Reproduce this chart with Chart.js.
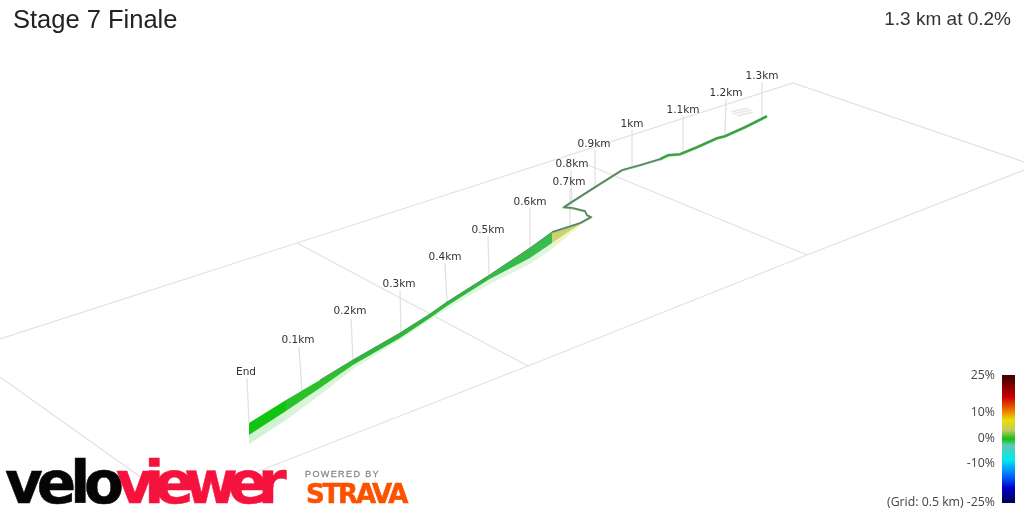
<!DOCTYPE html>
<html><head><meta charset="utf-8">
<script src="https://cdn.jsdelivr.net/npm/chart.js@4"></script>
<style>html,body{margin:0;padding:0;background:#fff}#w{width:1024px;height:512px}</style>
</head><body><div id="w"><canvas id="c" width="1024" height="512"></canvas></div>
<script>
const gridLines = [
  [[0,339],[297,243],[793,83],[1024,162]],
  [[297,243],[528,366]],
  [[588,165],[807,255]],
  [[177,503],[528,366],[807,255],[1024,170]],
  [[0,377],[177,503]]
];
const ribbonX      = [249,286,320,353,400,430,447,488,530,552,580];
const ribbonTopY   = [423,400,380,360,333,314,302,276,248,232,223];
const ribbonBottomY= [435,411,388,365,338,318,306,280,258,243,224];
const shadowBottomY= [444,420,395,369,340,320,309,285,264,249,226];
const ribbonColours= ['#12c412','#2cc02c','#2cc02c','#2eb83a','#2eb83a','#2eb83a','#2fb83f','#34bb48','#38bd4c','#cfd06e'];
const shadowColours= ['#d2f3d2','#d8f5d8','#d8f5d8','#ddf6dd','#ddf6dd','#ddf6dd','#ddf6dd','#ddf6dd','#ddf6dd','#f0f5c8'];
const routeEarly = [[552,232],[580,223],[591,217],[587,215],[585,211],[573,208],[564,207],[570,203],[595,187],[622,170],[640,165],[660,159]];
const routeLate  = [[660,159],[668,155],[680,154],[697,147],[717,138],[725,136],[745,127],[767,116]];
const stemLabels = ['End','0.1km','0.2km','0.3km','0.4km','0.5km','0.6km','0.7km','0.8km','0.9km','1km','1.1km','1.2km','1.3km'];
const stemX      = [247,299,351,400,445,488,530,570,571,595,632,683,726,762];
const stemTopY   = [378,347,318,290,263,236,208,188,170,150,130,116,99,82];
const stemBaseX  = [249,302,353,401,447,489,530,570,572,595,632,683,725,762];
const stemBaseY  = [423,392,360,332,303,277,248,225,206,187,166,153,136,118];
const labelX     = [246,298,350,399,445,488,530,569,572,594,632,683,726,762];
const labelY     = [371,339,310,283,256,229,201,181,163,143,123,109,92,75];
const startMark  = [[[731,112],[748,108]],[[733,114],[751,110]],[[737,116],[753,112]]];
const legendTicks = ['25%','10%','0%','-10%','(Grid: 0.5 km) -25%'];
const legendTickY = [375,412,438,463,502];
const legendStops = [[375,'#3c0000'],[397,'#c80000'],[410,'#f07000'],[420,'#e8e000'],[430,'#c8c860'],[439,'#10c010'],[445,'#60c8b0'],[460,'#00e8f0'],[475,'#0070ff'],[488,'#0000c8'],[503,'#000050']];

const title = 'Stage 7 Finale', subtitle = '1.3 km at 0.2%';
const pts = a => a.map(([x,y]) => ({x,y}));
const base = {type:'scatter',showLine:true,pointRadius:0,pointHoverRadius:0,tension:0};
const ds = [];
const line = (data,color,width,order,extra={}) => ds.push({...base,data,borderColor:color,borderWidth:width,fill:false,order,...extra});

gridLines.forEach(g => line(pts(g),'#e2e2e2',1.3,100));
stemX.forEach((x,i) => line([{x,y:stemTopY[i]},{x:stemBaseX[i],y:stemBaseY[i]}],'#e2e2e2',1.3,95));
startMark.forEach(m => line(pts(m),'#e6e6e6',1.6,94));

function band(upper,lower,colours,order){
  for(let i=0;i<ribbonX.length-1;i++){
    const a=[{x:ribbonX[i],y:upper[i]},{x:ribbonX[i+1],y:upper[i+1]}];
    const b=[{x:ribbonX[i],y:lower[i]},{x:ribbonX[i+1],y:lower[i+1]}];
    const idx=ds.length;
    ds.push({...base,data:a,borderWidth:0,borderColor:colours[i],backgroundColor:colours[i],fill:{target:idx+1},order});
    ds.push({...base,data:b,borderWidth:0,borderColor:colours[i],fill:false,order});
  }
}
band(ribbonBottomY,shadowBottomY,shadowColours,90);
band(ribbonTopY,ribbonBottomY,ribbonColours,80);
line(ribbonX.slice(0,10).map((x,i)=>({x,y:ribbonTopY[i]})).slice(2),'#4f8f58',1,70);
line(pts(routeEarly).map(p=>({x:p.x,y:p.y+1})),'#7ed07e',1.2,60);
line(pts(routeLate).map(p=>({x:p.x,y:p.y+1})),'#4fd04f',1.5,60);
line(pts(routeEarly),'#5c7f62',1.6,50);
line(pts(routeLate),'#3f9a4a',2.2,50);
line([{x:1008.5,y:legendStops[0][0]},{x:1008.5,y:legendStops[legendStops.length-1][0]}],
  c=>{const ch=c.chart,s=ch.scales.y;if(!s)return '#000';const p0=s.getPixelForValue(375),p1=s.getPixelForValue(503);
      if(!isFinite(p0)||!isFinite(p1))return '#000';
      const g=ch.ctx.createLinearGradient(0,p0,0,p1);
      legendStops.forEach(([y,col])=>g.addColorStop((y-375)/128,col));return g;},13,10,{borderCapStyle:'butt'});

const textPlugin = {id:'texts',afterDraw(ch){
  const c=ch.ctx,X=v=>ch.scales.x.getPixelForValue(v),Y=v=>ch.scales.y.getPixelForValue(v);
  const put=(t,x,y,font,col,al='left',ls='0px',stroke=0)=>{c.save();c.font=font;c.fillStyle=col;c.textAlign=al;c.textBaseline='alphabetic';c.letterSpacing=ls;
    if(stroke){c.strokeStyle=col;c.lineWidth=stroke;c.lineJoin='round';c.strokeText(t,X(x),Y(y));}
    c.fillText(t,X(x),Y(y));c.restore();};
  put(title,13,28,'25.5px "Liberation Sans"','#222');
  put(subtitle,1011,25,'19px "Liberation Sans"','#333','right');
  stemLabels.forEach((t,i)=>put(t,labelX[i],labelY[i]+4,'10.5px "DejaVu Sans"','#333','center'));
  legendTicks.forEach((t,i)=>put(t,995,legendTickY[i]+4,'12.3px "Open Sans"','#444','right'));
  put('velo',5,503,'bold 58px "DejaVu Sans"','#050505','left','-6px',.5);
  put('viewer',116,503,'bold 58px "DejaVu Sans"','#f5123c','left','-9.6px',.5);
  put('POWERED BY',305,477,'9px "Liberation Sans"','#8a8a8a','left','1.4px',.3);
  put('STRAVA',306,503,'bold 26px "DejaVu Sans"','#fc5200','left','-2.2px',.6);
}};

new Chart(document.getElementById('c'),{
  type:'scatter',data:{datasets:ds},plugins:[textPlugin],
  options:{responsive:false,animation:false,events:[],layout:{padding:0},
    scales:{x:{type:'linear',min:0,max:1024,display:false},y:{type:'linear',min:0,max:512,reverse:true,display:false}},
    plugins:{legend:{display:false},tooltip:{enabled:false},title:{display:false}}}
});
</script></body></html>
